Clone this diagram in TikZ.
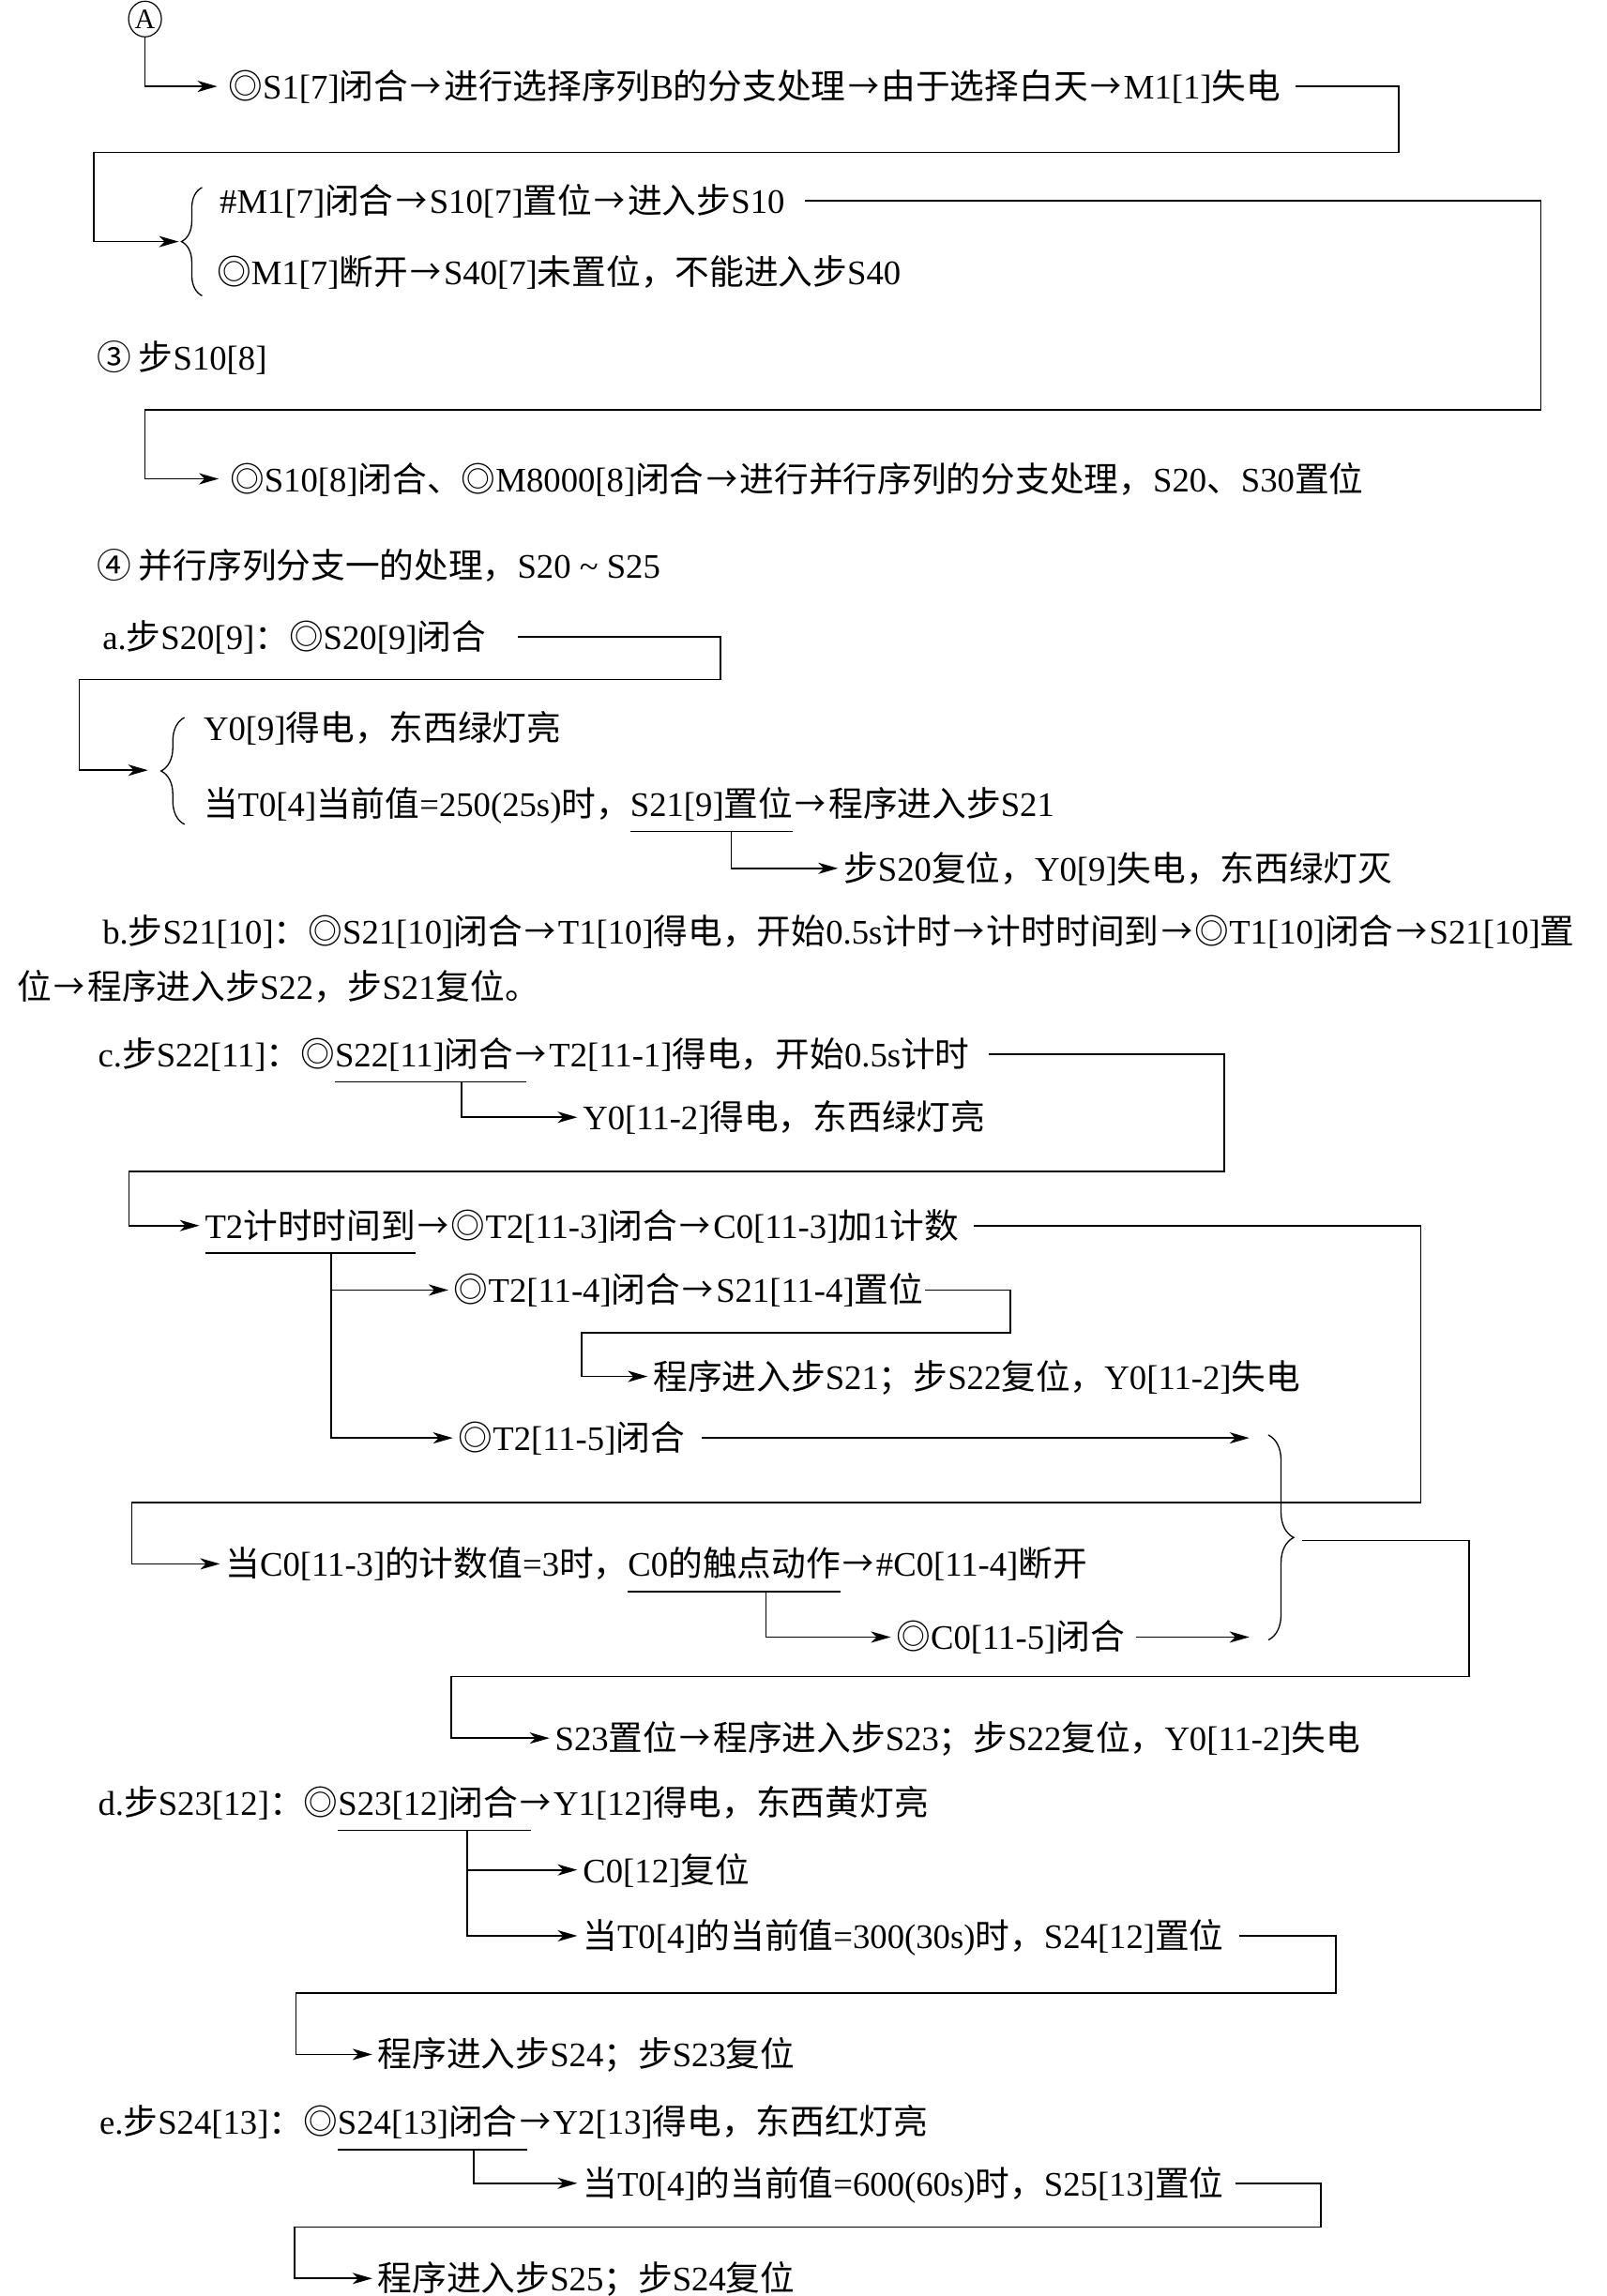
\documentclass[tikz,border=0pt]{standalone}
\usepackage{graphicx}
\usepackage{fontspec}
\setmainfont{Liberation Serif}
\newfontfamily\cjkf{Noto Sans CJK SC}
\newfontfamily\latf{Liberation Serif}
\usetikzlibrary{arrows.meta,decorations.pathreplacing,calc,shapes.geometric}
\XeTeXinterchartokenstate=1
\chardef\cjkcls=10
\newcount\clsc
\def\setcls#1#2#3{\clsc=#1\relax\loop\XeTeXcharclass\clsc=#3\relax\ifnum\clsc<#2\relax\advance\clsc by 1\relax\repeat}
\setcls{"0021}{"2FFF}{0}
\setcls{"3000}{"303F}{\cjkcls}
\setcls{"4E00}{"9FFF}{\cjkcls}
\setcls{"FF00}{"FFEF}{\cjkcls}
\setcls{"2460}{"24FF}{\cjkcls}
\XeTeXcharclass"25CE=\cjkcls
\XeTeXcharclass"2192=\cjkcls
\XeTeXinterchartoks 0 \cjkcls = {\cjkf}
\XeTeXinterchartoks 4095 \cjkcls = {\cjkf}
\XeTeXinterchartoks \cjkcls 0 = {\latf}
\XeTeXinterchartoks 4095 0 = {\latf}
\newcommand\arrowglyph{\makebox[1.04em][c]{\scalebox{0.9}[1]{\cjkf\char"2192}}}
\catcode`\→=\active
\def→{\arrowglyph}
\begin{document}
\begin{tikzpicture}[x=1.5615pt,y=-1.5615pt,
  txt/.style={anchor=west,inner sep=0pt,outer sep=0pt,text height=31pt,text depth=4pt,
    font=\fontsize{36.7pt}{44pt}\selectfont},
  ln/.style={line width=1.6pt},
  arr/.style={ln,-{Stealth[length=21pt,width=12pt,inset=6pt]}},
  brc/.style={line width=1.3pt,decorate,decoration={brace,amplitude=#1}}]
\useasboundingbox[fill=white] (0,0) rectangle (1097,1568);

% ---- top part
\node[draw,ellipse,line width=1.2pt,minimum width=35pt,minimum height=38pt,inner sep=0pt,
  font=\fontsize{30pt}{30pt}\selectfont] (A) at (99,13) {A};
\node[txt] (L1) at (156,59) {◎S1[7]闭合→进行选择序列B的分支处理→由于选择白天→M1[1]失电};
\draw[arr] (A.south) |- ([xshift=-12pt]L1.west);

\draw[brc=22pt] (138,202) -- (138,128);
\coordinate (br1) at (122,165);
\draw[arr] ([xshift=16pt]L1.east) -| (955,104) -- (64,104) |- (br1);
\node[txt] (M1a) at (150,137) {\#M1[7]闭合→S10[7]置位→进入步S10};
\node[txt] (M1b) at (148,186) {◎M1[7]断开→S40[7]未置位，不能进入步S40};

\node[txt] (S10) at (66,244) {③ 步S10[8]};
\node[txt] (L3) at (157,327) {◎S10[8]闭合、◎M8000[8]闭合→进行并行序列的分支处理，S20、S30置位};
\draw[arr] ([xshift=22pt]M1a.east) -| (1052,280) -- (99,280) |- ([xshift=-12pt]L3.west);

\node[txt] (L4) at (66,386) {④ 并行序列分支一的处理，S20 \textasciitilde{} S25};

% ---- a
\node[txt] (La) at (70,435) {a.步S20[9]：◎S20[9]闭合};
\draw[brc=25pt] (126,563) -- (126,490);
\coordinate (br2) at (101,526);
\draw[arr] ([xshift=34pt]La.east) -| (492,464) -- (54,464) |- (br2);
\node[txt] (Ya) at (139,497) {Y0[9]得电，东西绿灯亮};
\node[txt] (Wa1) at (139,549) {当T0[4]当前值=250(25s)时，};
\node[txt] (Wa2) at (Wa1.east) {S21[9]置位};
\node[txt] (Wa3) at (Wa2.east) {→程序进入步S21};
\node[txt] (Sa) at (576,593) {步S20复位，Y0[9]失电，东西绿灯灭};
\draw[ln] ([yshift=-12pt]Wa2.south west) coordinate (ua1) -- ([yshift=-12pt]Wa2.south east) coordinate (ua2);
\draw[arr] ($(ua1)!0.62!(ua2)$) |- ([xshift=-6pt]Sa.west);

% ---- b
\node[txt] (Lb1) at (70,636) {b.步S21[10]：◎S21[10]闭合→T1[10]得电，开始0.5s计时→计时时间到→◎T1[10]闭合→S21[10]置};
\node[txt] (Lb2) at (12,674) {位→程序进入步S22，步S21复位。};

% ---- c
\node[txt] (Lc1) at (67,720) {c.步S22[11]：◎};
\node[txt] (Lc2) at (Lc1.east) {S22[11]闭合};
\node[txt] (Lc3) at (Lc2.east) {→T2[11-1]得电，开始0.5s计时};
\node[txt] (Yc) at (398,763) {Y0[11-2]得电，东西绿灯亮};
\draw[ln] ([yshift=-12pt]Lc2.south west) coordinate (uc1) -- ([yshift=-12pt,xshift=14pt]Lc2.south east) coordinate (uc2);
\draw[arr] ($(uc1)!0.66!(uc2)$) |- ([xshift=-6pt]Yc.west);

\node[txt] (T2a) at (140,837) {T2计时时间到};
\node[txt] (T2b) at (T2a.east) {→◎T2[11-3]闭合→C0[11-3]加1计数};
\draw[arr] ([xshift=20pt]Lc3.east) -| (836,800) -- (88,800) |- ([xshift=-6pt]T2a.west);
\draw[ln] ([yshift=-12pt]T2a.south west) coordinate (ut1) -- ([yshift=-12pt]T2a.south east) coordinate (ut2);
\coordinate (ut) at ($(ut1)!0.6!(ut2)$);

\node[txt] (T4) at (310,881) {◎T2[11-4]闭合→S21[11-4]置位};
\node[txt] (P21) at (446,940) {程序进入步S21；步S22复位，Y0[11-2]失电};
\node[txt] (T5) at (313,982) {◎T2[11-5]闭合};
\draw[arr] (ut) |- ([xshift=-6pt]T5.west);
\draw[arr] (ut |- T4.west) -- ([xshift=-6pt]T4.west);
\draw[arr] ([xshift=2pt]T4.east) -| (690,910) -- (397,910) |- ([xshift=-6pt]P21.west);

\coordinate (b3a) at (853,982);
\coordinate (b3b) at (853,1118);
\coordinate (b3tip) at (889,1052);
\draw[brc=27pt] (866,980) -- (866,1120);
\draw[arr] ([xshift=18pt]T5.east) -- (b3a);

\node[txt] (C1a) at (154,1068) {当C0[11-3]的计数值=3时，};
\node[txt] (C1b) at (C1a.east) {C0的触点动作};
\node[txt] (C1c) at (C1b.east) {→\#C0[11-4]断开};
\draw[arr] ([xshift=16pt]T2b.east) -| (970,1026) -- (90,1026) |- ([xshift=-6pt]C1a.west);
\node[txt] (C5) at (612,1118) {◎C0[11-5]闭合};
\draw[ln] ([yshift=-12pt]C1b.south west) coordinate (uk1) -- ([yshift=-12pt]C1b.south east) coordinate (uk2);
\draw[arr] ($(uk1)!0.65!(uk2)$) |- ([xshift=-6pt]C5.west);
\draw[arr] ([xshift=12pt]C5.east) -- (b3b);

\node[txt] (S23) at (379,1187) {S23置位→程序进入步S23；步S22复位，Y0[11-2]失电};
\draw[arr] (b3tip) -| (1003,1145) -- (308,1145) |- ([xshift=-6pt]S23.west);

% ---- d
\node[txt] (Ld1) at (67,1231) {d.步S23[12]：◎};
\node[txt] (Ld2) at (Ld1.east) {S23[12]闭合};
\node[txt] (Ld3) at (Ld2.east) {→Y1[12]得电，东西黄灯亮};
\draw[ln] ([yshift=-12pt]Ld2.south west) coordinate (ud1) -- ([yshift=-12pt,xshift=14pt]Ld2.south east) coordinate (ud2);
\coordinate (ud) at ($(ud1)!0.67!(ud2)$);
\node[txt] (C0r) at (398,1277) {C0[12]复位};
\node[txt] (T30) at (398,1322) {当T0[4]的当前值=300(30s)时，S24[12]置位};
\draw[arr] (ud) |- ([xshift=-6pt]T30.west);
\draw[arr] (ud |- C0r.west) -- ([xshift=-6pt]C0r.west);
\node[txt] (P24) at (258,1403) {程序进入步S24；步S23复位};
\draw[arr] ([xshift=16pt]T30.east) -| (912,1361) -- (202,1361) |- ([xshift=-6pt]P24.west);

% ---- e
\node[txt] (Le1) at (68,1449) {e.步S24[13]：◎};
\node[txt] (Le2) at (Le1.east) {S24[13]闭合};
\node[txt] (Le3) at (Le2.east) {→Y2[13]得电，东西红灯亮};
\draw[ln] ([yshift=-12pt]Le2.south west) coordinate (ue1) -- ([yshift=-12pt,xshift=10pt]Le2.south east) coordinate (ue2);
\node[txt] (T60) at (398,1491) {当T0[4]的当前值=600(60s)时，S25[13]置位};
\draw[arr] ($(ue1)!0.72!(ue2)$) |- ([xshift=-6pt]T60.west);
\node[txt] (P25) at (258,1556) {程序进入步S25；步S24复位};
\draw[arr] ([xshift=12pt]T60.east) -| (902,1521) -- (201,1521) |- ([xshift=-6pt]P25.west);
\end{tikzpicture}
\end{document}
